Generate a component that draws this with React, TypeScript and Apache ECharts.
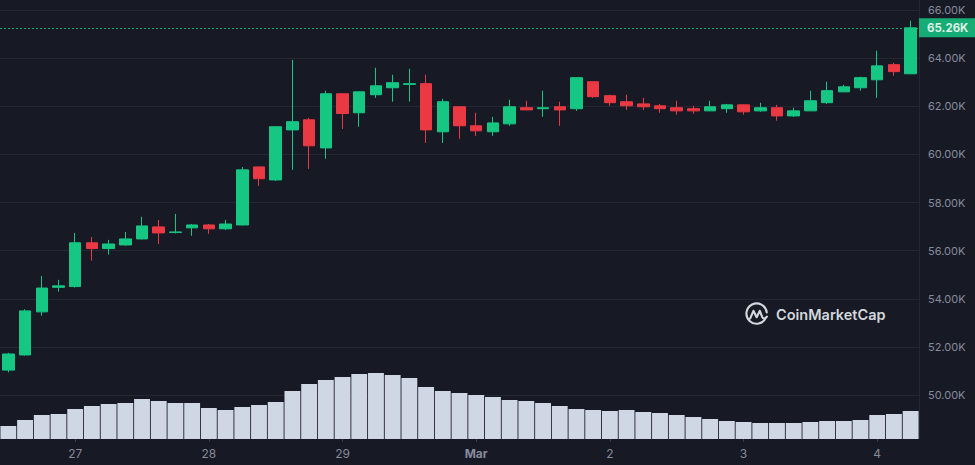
import React, { useEffect, useRef } from "react";
import * as echarts from "echarts";

// 3-hour candles, BTC/USD, Feb 26 12:00 → Mar 4 06:00
const categories = [
  "Feb 26 12:00", "Feb 26 15:00", "Feb 26 18:00", "Feb 26 21:00",
  "Feb 27 00:00", "Feb 27 03:00", "Feb 27 06:00", "Feb 27 09:00", "Feb 27 12:00", "Feb 27 15:00", "Feb 27 18:00", "Feb 27 21:00",
  "Feb 28 00:00", "Feb 28 03:00", "Feb 28 06:00", "Feb 28 09:00", "Feb 28 12:00", "Feb 28 15:00", "Feb 28 18:00", "Feb 28 21:00",
  "Feb 29 00:00", "Feb 29 03:00", "Feb 29 06:00", "Feb 29 09:00", "Feb 29 12:00", "Feb 29 15:00", "Feb 29 18:00", "Feb 29 21:00",
  "Mar 1 00:00", "Mar 1 03:00", "Mar 1 06:00", "Mar 1 09:00", "Mar 1 12:00", "Mar 1 15:00", "Mar 1 18:00", "Mar 1 21:00",
  "Mar 2 00:00", "Mar 2 03:00", "Mar 2 06:00", "Mar 2 09:00", "Mar 2 12:00", "Mar 2 15:00", "Mar 2 18:00", "Mar 2 21:00",
  "Mar 3 00:00", "Mar 3 03:00", "Mar 3 06:00", "Mar 3 09:00", "Mar 3 12:00", "Mar 3 15:00", "Mar 3 18:00", "Mar 3 21:00",
  "Mar 4 00:00", "Mar 4 03:00", "Mar 4 06:00",
];

const opens = [
  51040, 51670, 53460, 54480, 54510, 56330, 56090, 56240, 56490, 56990, 56760, 56950,
  57070, 56910, 57070, 59480, 58940, 61020, 61440, 60270, 62520, 61730, 62480, 62770,
  62910, 62940, 60940, 61980, 61190, 60940, 61270, 61940, 61900, 61980, 61900, 63020,
  62440, 62190, 62100, 62020, 61940, 61900, 61810, 61900, 62060, 61810, 61940, 61600,
  61810, 62150, 62600, 62770, 63100, 63730, 63350,
];
const closes = [
  51710, 53500, 54450, 54540, 56330, 56090, 56280, 56490, 57030, 56740, 56780, 57070,
  56910, 57110, 59360, 58990, 61150, 61360, 60360, 62520, 61700, 62600, 62850, 62980,
  62940, 61020, 62190, 61190, 60980, 61310, 61980, 61850, 61940, 61850, 63190, 62400,
  62150, 62020, 61980, 61900, 61810, 61810, 61980, 62060, 61770, 61940, 61600, 61810,
  62230, 62650, 62810, 63190, 63680, 63440, 65260,
];
const lows = [
  50950, 51640, 53300, 54300, 54470, 55590, 55840, 56210, 56470, 56280, 56720, 56620,
  56700, 56860, 57050, 58690, 58900, 59360, 59400, 59820, 61060, 61150, 62350, 62190,
  62190, 60480, 60480, 60650, 60770, 60770, 61190, 61850, 61560, 61190, 61810, 62350,
  62020, 61850, 61850, 61730, 61650, 61690, 61800, 61730, 61650, 61770, 61400, 61560,
  61800, 62100, 62590, 62650, 62350, 63270, 63340,
];
const highs = [
  51760, 53570, 54950, 54790, 56740, 56570, 56450, 56780, 57410, 57280, 57530, 57110,
  57110, 57280, 59480, 59490, 61170, 63930, 61520, 62650, 62530, 62620, 63600, 63310,
  63560, 63310, 62310, 61990, 61730, 61560, 62270, 62230, 62650, 62190, 63200, 63030,
  62480, 62480, 62350, 62100, 62230, 62020, 62230, 62100, 62070, 62150, 62060, 61940,
  62650, 63020, 62890, 63230, 64310, 63810, 65560,
];

// volume, billions USD (relative estimate)
const volumes = [
  1.3, 1.9, 2.4, 2.5, 3.0, 3.3, 3.5, 3.6, 4.0, 3.8, 3.6, 3.6,
  3.1, 2.9, 3.2, 3.4, 3.7, 4.8, 5.5, 5.9, 6.2, 6.5, 6.6, 6.4,
  6.1, 5.2, 4.8, 4.6, 4.4, 4.2, 3.9, 3.8, 3.6, 3.3, 3.0, 2.9,
  2.8, 2.9, 2.7, 2.6, 2.4, 2.2, 2.0, 1.8, 1.7, 1.6, 1.6, 1.6,
  1.7, 1.8, 1.8, 1.9, 2.4, 2.5, 2.8,
];

const dayTickCategories = ["Feb 27 00:00", "Feb 28 00:00", "Feb 29 00:00", "Mar 1 00:00", "Mar 2 00:00", "Mar 3 00:00", "Mar 4 00:00"];
const dayTickLabels = ["27", "28", "29", "Mar", "2", "3", "4"];
const monthTickLabels = ["Mar"];

const priceMin = 48000;
const priceMax = 66000;
const priceInterval = 2000;
const lastPrice = 65260;

const UP = "#16c784";
const DOWN = "#ea3943";
const BG = "#171924";
const GRID = "#242733";
const AXIS_TEXT = "#858b9b";

const LOGO_D =
  "M21.6 15.6 A10.5 10.5 0 1 1 22.4 10.2 M5.4 16.4 L8.7 8.6 L12 15.2 L15.3 8.6 L17.6 14.6 Q19.6 18.4 22.6 14.6";
echarts.graphic.registerShape("cmcLogo", echarts.graphic.extendPath(LOGO_D, {}) as any);

const fmtK = (v: number) => (v / 1000).toFixed(2) + "K";

export default function App() {
  const ref = useRef<HTMLDivElement>(null);

  useEffect(() => {
    if (!ref.current) return;
    const chart = echarts.init(ref.current, undefined, { renderer: "svg" });
    const ohlc = categories.map((_, i) => [opens[i], closes[i], lows[i], highs[i]]);
    const tickIdx = new Set(dayTickCategories.map((c) => categories.indexOf(c)));
    const gridLineColors = ["rgba(0,0,0,0)"];
    for (let v = priceMin + priceInterval; v <= priceMax; v += priceInterval) gridLineColors.push(GRID);

    chart.setOption({
      animation: false,
      backgroundColor: BG,
      textStyle: { fontFamily: "Inter, 'Noto Sans', sans-serif" },
      grid: [
        { left: -1, right: 56, top: 10, height: 433.3 },
        { left: -1, right: 56, top: 339, height: 100 },
      ],
      xAxis: [
        {
          type: "category",
          gridIndex: 0,
          data: categories,
          show: false,
        },
        {
          type: "category",
          gridIndex: 1,
          data: categories,
          axisLine: { show: false },
          axisTick: {
            show: true,
            alignWithLabel: true,
            interval: (i: number) => tickIdx.has(i),
            length: 3,
            lineStyle: { color: "#3a3e4c" },
          },
          splitLine: { show: false },
          axisLabel: {
            interval: (i: number) => tickIdx.has(i),
            margin: 8,
            fontSize: 12,
            color: AXIS_TEXT,
            fontFamily: "Inter, sans-serif",
            formatter: (val: string) => {
              const k = dayTickCategories.indexOf(val);
              if (k < 0) return "";
              const lab = dayTickLabels[k];
              return monthTickLabels.includes(lab) ? "{b|" + lab + "}" : lab;
            },
            rich: {
              b: { fontWeight: 700, fontSize: 12, color: AXIS_TEXT, fontFamily: "Inter, sans-serif" },
            },
          },
        },
      ],
      yAxis: [
        {
          type: "value",
          gridIndex: 0,
          position: "right",
          min: priceMin,
          max: priceMax,
          interval: priceInterval,
          axisLine: { show: false },
          axisTick: { show: false },
          splitLine: { show: true, lineStyle: { color: gridLineColors, width: 1 } },
          axisLabel: {
            margin: 9,
            fontSize: 11,
            color: AXIS_TEXT,
            fontFamily: "Inter, sans-serif",
            formatter: (v: number) => (v === priceMin ? "" : fmtK(v)),
          },
        },
        {
          type: "value",
          gridIndex: 1,
          min: 0,
          max: 10,
          show: false,
          splitLine: { show: false },
        },
      ],
      series: [
        {
          type: "bar",
          name: "Volume",
          xAxisIndex: 1,
          yAxisIndex: 1,
          data: volumes,
          barCategoryGap: "5%",
          itemStyle: { color: "#cfd6e4" },
          silent: true,
        },
        {
          type: "candlestick",
          name: "BTC",
          xAxisIndex: 0,
          yAxisIndex: 0,
          data: ohlc,
          barWidth: 12,
          itemStyle: {
            color: UP,
            color0: DOWN,
            borderColor: UP,
            borderColor0: DOWN,
            borderWidth: 1,
          },
          silent: true,
          markLine: {
            silent: true,
            symbol: ["none", "none"],
            data: [{ yAxis: lastPrice }],
            lineStyle: { color: UP, type: [2, 2], width: 1, opacity: 0.85 },
            label: {
              show: true,
              position: "end",
              distance: 0,
              formatter: () => fmtK(lastPrice),
              backgroundColor: UP,
              color: "#ffffff",
              fontWeight: 700,
              fontSize: 11.5,
              fontFamily: "Inter, sans-serif",
              lineHeight: 13,
              padding: [3, 8, 3, 8],
              borderRadius: 0,
            },
          },
        },
      ],
      graphic: [
        {
          type: "line",
          silent: true,
          shape: { x1: 919.5, y1: 0, x2: 919.5, y2: 439 },
          style: { stroke: GRID, lineWidth: 1 },
        },
        {
          type: "group",
          silent: true,
          children: [
            {
              type: "cmcLogo",
              x: 745,
              y: 302.5,
              scaleX: 0.97,
              scaleY: 0.97,
              style: { fill: "none", stroke: "#d3d7de", lineWidth: 2.2, lineCap: "round", lineJoin: "round" },
            },
            {
              type: "text",
              x: 776,
              y: 314,
              style: {
                text: "CoinMarketCap",
                fill: "#d3d7de",
                font: "600 14.5px Inter, sans-serif",
                verticalAlign: "middle",
                align: "left",
              },
            },
          ],
        },
      ],
    });
    return () => chart.dispose();
  }, []);

  return (
    <div
      ref={ref}
      style={{ position: "fixed", left: 0, top: 0, width: 975, height: 465, background: BG }}
    />
  );
}
